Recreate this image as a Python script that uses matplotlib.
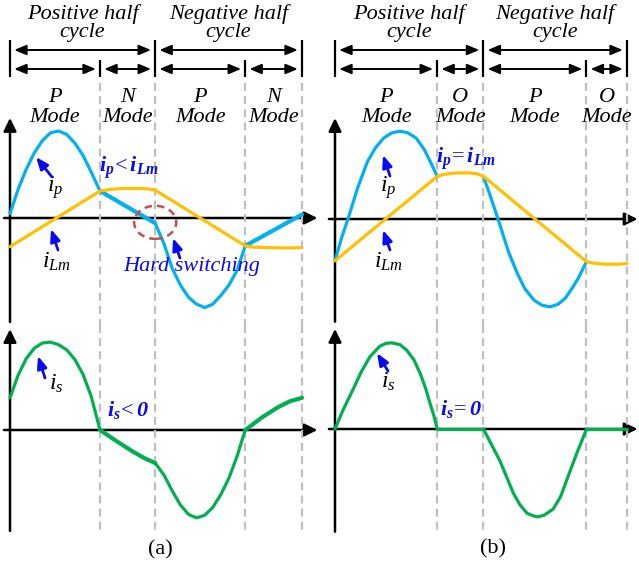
import matplotlib
matplotlib.use('Agg')
import matplotlib.pyplot as plt
from matplotlib.transforms import blended_transform_factory
from matplotlib.patches import Ellipse

# ---------------- data (time in degrees of one switching period, current normalised) -------------
# panel (a)
a_bounds = [0, 111, 179, 290, 360]
a_modes = ['P', 'N', 'P', 'N']
a_ip_t1 = [0, 10, 20, 30, 40, 50, 60, 70, 80, 90, 100, 111]
a_ip_v1 = [0.05, 0.33, 0.56, 0.75, 0.89, 0.98, 1.0, 0.96, 0.86, 0.72, 0.53, 0.31]
a_ip_t2 = [111, 179]
a_ip_v2 = [0.31, -0.06]
a_ip_t3 = [179, 190, 200, 210, 220, 230, 240, 250, 260, 270, 280, 290]
a_ip_v3 = [-0.06, -0.30, -0.58, -0.77, -0.91, -0.99, -1.03, -0.99, -0.89, -0.77, -0.60, -0.32]
a_ip_t4 = [290, 360]
a_ip_v4 = [-0.32, 0.04]
a_iLm_t = [0, 111, 125, 140, 155, 170, 179, 290, 300, 320, 340, 360]
a_iLm_v = [-0.33, 0.31, 0.33, 0.34, 0.34, 0.335, 0.32, -0.32, -0.335, -0.34, -0.345, -0.34]
a_is_t1 = [0, 10, 20, 30, 40, 50, 60, 70, 80, 90, 100, 111]
a_is_v1 = [0.37, 0.63, 0.82, 0.94, 1.0, 1.01, 0.98, 0.92, 0.81, 0.64, 0.39, 0.0]
a_is_t2 = [111, 130, 150, 165, 179]
a_is_v2 = [0.0, -0.12, -0.24, -0.32, -0.38]
a_is_t3 = [179, 190, 200, 210, 220, 230, 240, 250, 260, 270, 280, 290]
a_is_v3 = [-0.38, -0.52, -0.70, -0.86, -0.97, -1.01, -0.98, -0.89, -0.74, -0.55, -0.30, 0.0]
a_is_t4 = [290, 310, 330, 345, 360]
a_is_v4 = [0.0, 0.14, 0.26, 0.33, 0.37]

# panel (b)
b_bounds = [0, 126, 183, 310, 360]
b_modes = ['P', 'O', 'P', 'O']
b_ip_t1 = [0, 8, 16, 28, 40, 50, 60, 70, 80, 90, 100, 110, 118, 126]
b_ip_v1 = [-0.48, -0.22, 0.0, 0.36, 0.66, 0.82, 0.93, 0.99, 1.01, 0.99, 0.93, 0.80, 0.65, 0.49]
b_ip_t2 = [183, 192, 201, 214, 225, 234, 245, 255, 265, 275, 284, 292, 300, 310]
b_ip_v2 = [0.49, 0.25, 0.0, -0.38, -0.63, -0.80, -0.93, -0.99, -1.01, -0.98, -0.91, -0.80, -0.68, -0.49]
b_iLm_t = [0, 126, 135, 150, 165, 175, 183, 310, 320, 335, 350, 360]
b_iLm_v = [-0.48, 0.49, 0.515, 0.53, 0.53, 0.52, 0.49, -0.49, -0.51, -0.52, -0.52, -0.51]
b_is_t1 = [0, 10, 22, 32, 43, 55, 63, 70, 80, 88, 97, 105, 112, 117, 122, 126]
b_is_v1 = [0.0, 0.22, 0.45, 0.65, 0.83, 0.95, 0.985, 0.99, 0.97, 0.91, 0.80, 0.64, 0.46, 0.30, 0.15, 0.0]
b_is_t2 = [126, 183]
b_is_v2 = [0.0, 0.0]
b_is_t3 = [183, 193, 203, 212, 220, 228, 237, 245, 250, 258, 269, 278, 286, 292, 298, 305, 310]
b_is_v3 = [0.0, -0.18, -0.36, -0.56, -0.74, -0.87, -0.97, -1.0, -1.01, -0.99, -0.92, -0.78, -0.58, -0.43, -0.28, -0.12, 0.0]
b_is_t4 = [310, 360]
b_is_v4 = [0.0, 0.0]

half_labels = ['Positive half\ncycle', 'Negative half\ncycle']

# ---------------- style ----------------
C_IP = '#00B0F0'
C_LM = '#FFC000'
C_IS = '#00B050'
C_DASH = '#BFBFBF'
BLUE = '#0A0AF0'
C_CIRC = '#C0504D'

plt.rcParams.update({
    'font.family': ['Liberation Serif', 'DejaVu Serif'],
    'mathtext.fontset': 'custom',
    'mathtext.rm': 'Liberation Serif',
    'mathtext.it': 'Liberation Serif:italic',
    'mathtext.bf': 'Liberation Serif:bold',
})
try:
    plt.rcParams['mathtext.bfit'] = 'Liberation Serif:italic:bold'
except KeyError:
    pass

W, H = 639, 573
SX = 292 / 360.0   # px per degree
SY = 87.0          # px per unit current
FS = 16

fig = plt.figure(figsize=(W / 100, H / 100), dpi=100)
fig.patch.set_facecolor('white')
canvas = fig.add_axes([0, 0, 1, 1])
canvas.set_xlim(0, W)
canvas.set_ylim(H, 0)
canvas.axis('off')
canvas.patch.set_visible(False)
canvas.set_zorder(10)


def panel(left, right, top, bottom, x0, y0):
    ax = fig.add_axes([left / W, 1 - bottom / H, (right - left) / W, (bottom - top) / H])
    ax.set_xlim((left - x0) / SX, (right - x0) / SX)
    ax.set_ylim((y0 - bottom) / SY, (y0 - top) / SY)
    ax.axis('off')
    ax.patch.set_visible(False)
    return ax


AX_STYLE = dict(arrowstyle='-|>,head_length=0.65,head_width=0.32', lw=1.8, color='black',
                mutation_scale=12, shrinkA=0, shrinkB=0)
BL_STYLE = dict(arrowstyle='-|>,head_length=0.6,head_width=0.24', lw=2.0, color=BLUE,
                mutation_scale=12, shrinkA=0, shrinkB=0)
DB_STYLE = dict(arrowstyle='<|-|>,head_length=0.6,head_width=0.25', lw=1.4, color='black',
                mutation_scale=12, shrinkA=3, shrinkB=3)


def axes_arrows(ax, tl, tr, yb, yt):
    ax.annotate('', xy=(tr, 0), xytext=(tl, 0), arrowprops=AX_STYLE, annotation_clip=False, zorder=2)
    ax.annotate('', xy=(0, yt), xytext=(0, yb), arrowprops=AX_STYLE, annotation_clip=False, zorder=2)


def dashes(ax, bounds, p_top, p_bot):
    bl = blended_transform_factory(ax.transData, canvas.transData)
    for t in bounds[1:]:
        ax.plot([t, t], [p_top, p_bot], transform=bl, color=C_DASH, lw=1.6,
                ls=(0, (3.6, 2.3)), zorder=3, clip_on=False)


def header(ax, bounds, modes):
    bl = blended_transform_factory(ax.transData, canvas.transData)
    for i, t in enumerate(bounds):
        top = 40 if i % 2 == 0 else 60
        ax.plot([t, t], [top, 77], transform=bl, color='black', lw=1.6, clip_on=False,
                solid_capstyle='butt')
    for k in range(2):
        t1, t2 = bounds[2 * k], bounds[2 * k + 2]
        ax.annotate('', xy=(t2, 50), xytext=(t1, 50), xycoords=bl, textcoords=bl,
                    arrowprops=DB_STYLE, annotation_clip=False)
        ax.text((t1 + t2) / 2, 23, half_labels[k], transform=bl, ha='center', va='center',
                fontsize=FS, style='italic', linespacing=0.95)
    for k in range(4):
        t1, t2 = bounds[k], bounds[k + 1]
        ax.annotate('', xy=(t2, 69), xytext=(t1, 69), xycoords=bl, textcoords=bl,
                    arrowprops=DB_STYLE, annotation_clip=False)
        ax.text((t1 + t2) / 2, 98, modes[k], transform=bl, ha='center', va='center',
                fontsize=FS, style='italic')
        ax.text((t1 + t2) / 2, 118, 'Mode', transform=bl, ha='center', va='center',
                fontsize=FS, style='italic')


def curve(ax, t, v, color, lw=2.3, z=4):
    ax.plot(t, v, color=color, lw=lw, zorder=z, clip_on=False, solid_capstyle='round',
            solid_joinstyle='round')


# ---------------- panel (a) ----------------
ta = panel(0, 320, 80, 325, 10, 218)
ba = panel(0, 320, 325, 540, 10, 430)
axes_arrows(ta, -7.5, 379, -1.195, 1.15)
axes_arrows(ba, -7.5, 379, -1.16, 1.16)
dashes(ta, a_bounds, 83, 325)
dashes(ba, a_bounds, 325, 530)
header(ta, a_bounds, a_modes)

curve(ta, a_ip_t1, a_ip_v1, C_IP)
curve(ta, a_ip_t2, a_ip_v2, C_IP, lw=3.0)
curve(ta, a_ip_t3, a_ip_v3, C_IP)
curve(ta, a_ip_t4, a_ip_v4, C_IP, lw=3.0)
curve(ta, a_iLm_t, a_iLm_v, C_LM, z=5)
curve(ba, a_is_t1, a_is_v1, C_IS)
curve(ba, a_is_t2, a_is_v2, C_IS, lw=3.0)
curve(ba, a_is_t3, a_is_v3, C_IS)
curve(ba, a_is_t4, a_is_v4, C_IS, lw=3.0)
ta.add_patch(Ellipse((a_bounds[2], -0.05), width=52, height=0.38, fill=False, ec=C_CIRC,
                     lw=1.8, ls=(0, (3, 2)), zorder=6, clip_on=False))

# ---------------- panel (b) ----------------
tb = panel(320, 639, 80, 325, 335, 219)
bb = panel(320, 639, 325, 540, 335, 429)
axes_arrows(tb, -7.5, 373, -1.18, 1.16)
axes_arrows(bb, -7.5, 373, -1.18, 1.15)
dashes(tb, b_bounds, 83, 325)
dashes(bb, b_bounds, 325, 530)
header(tb, b_bounds, b_modes)

curve(tb, b_ip_t1, b_ip_v1, C_IP)
curve(tb, b_ip_t2, b_ip_v2, C_IP)
curve(tb, b_iLm_t, b_iLm_v, C_LM, z=5)
curve(bb, b_is_t1, b_is_v1, C_IS)
curve(bb, b_is_t2, b_is_v2, C_IS)
curve(bb, b_is_t3, b_is_v3, C_IS)
curve(bb, b_is_t4, b_is_v4, C_IS)

# ---------------- annotations ----------------
def label(x, y, s, tail, tip):
    canvas.text(x, y, s, fontsize=17, ha='center', va='center')
    canvas.annotate('', xy=tip, xytext=tail, arrowprops=BL_STYLE)


label(55, 188, r'$i_p$', (52, 177), (36, 157))
label(56, 262, r'$i_{Lm}$', (58, 250), (51, 229))
label(56, 384, r'$i_s$', (45, 378), (38, 356))
label(388, 188, r'$i_p$', (390, 176), (383, 155))
label(388, 262, r'$i_{Lm}$', (390, 250), (383, 230))
label(388, 382, r'$i_s$', (388, 371), (377, 353))

BT = dict(fontsize=16, ha='center', va='center', color=BLUE)
canvas.text(129, 168, r'$\mathbfit{i}_{\mathbfit{p}}\!<\mathbfit{i}_{\mathbfit{Lm}}$', **BT)
canvas.text(466, 159, r'$\mathbfit{i}_{\mathbfit{p}}\!=\mathbfit{i}_{\mathbfit{Lm}}$', **BT)
canvas.text(128, 410, r'$\mathbfit{i}_{\mathbfit{s}}\!<\mathbfit{0}$', **BT)
canvas.text(461, 409, r'$\mathbfit{i}_{\mathbfit{s}}\!=\mathbfit{0}$', **BT)
canvas.text(192, 267, 'Hard switching', fontsize=16, ha='center', va='center', color=BLUE,
            style='italic')
canvas.annotate('', xy=(173, 238), xytext=(180, 258), arrowprops=BL_STYLE)

canvas.text(160, 550, '(a)', fontsize=16, ha='center', va='center')
canvas.text(493, 549, '(b)', fontsize=16, ha='center', va='center')

fig.savefig('out.png', dpi=100, facecolor='white')
